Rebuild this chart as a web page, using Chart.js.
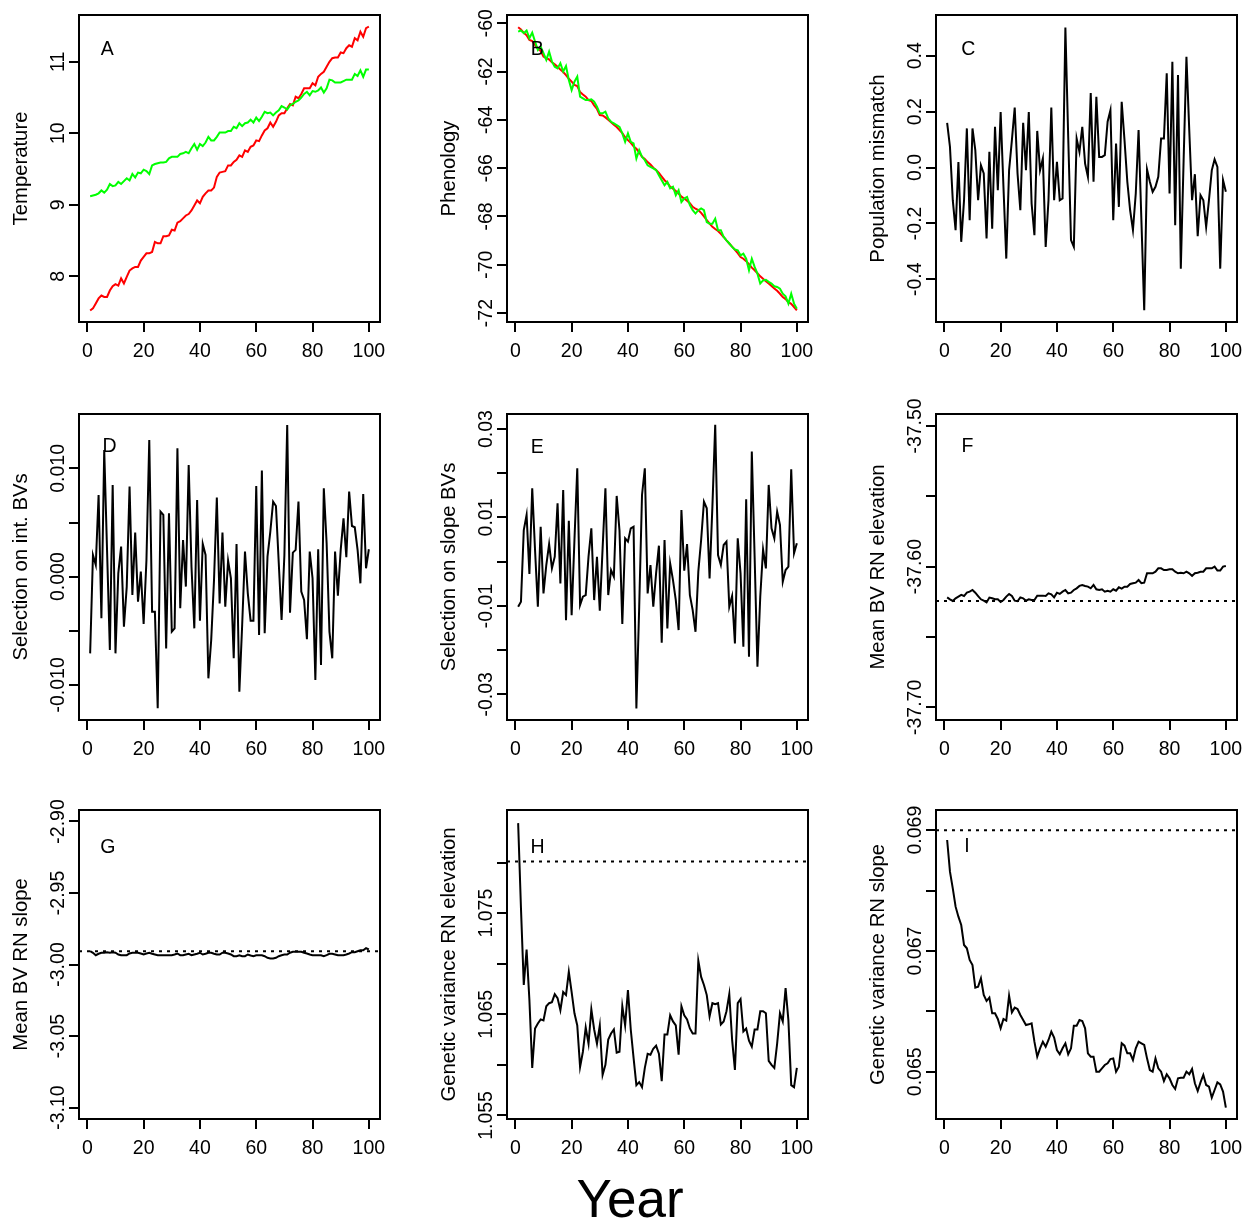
<!DOCTYPE html>
<html><head><meta charset="utf-8">
<script src="https://cdn.jsdelivr.net/npm/chart.js@4"></script>
<style>
html,body{margin:0;padding:0;background:#fff;}
body{width:1251px;height:1222px;position:relative;overflow:hidden;}
canvas{position:absolute;}
#xlabel{position:absolute;left:430px;width:400px;top:1172px;text-align:center;font-family:"Liberation Sans",Arial,sans-serif;font-size:53px;line-height:53px;color:#000;}
</style></head><body>
<div id="xlabel">Year</div>
<script>
const years = Array.from({length:100}, (_, i) => i + 1);
const xTicks = [0,20,40,60,80,100];

const tempRed = [7.52,7.55,7.62,7.69,7.73,7.71,7.71,7.80,7.86,7.89,7.87,7.97,7.90,7.99,8.08,8.11,8.13,8.13,8.22,8.27,8.32,8.32,8.34,8.48,8.46,8.46,8.56,8.56,8.57,8.65,8.64,8.75,8.77,8.81,8.85,8.87,8.92,8.99,9.06,9.02,9.11,9.16,9.20,9.20,9.24,9.39,9.45,9.46,9.47,9.55,9.55,9.60,9.63,9.69,9.67,9.76,9.74,9.81,9.83,9.90,9.89,9.97,10.04,10.07,10.15,10.09,10.16,10.25,10.28,10.28,10.35,10.41,10.39,10.51,10.49,10.55,10.63,10.63,10.63,10.70,10.67,10.79,10.83,10.86,10.93,11.00,11.05,11.06,11.06,11.13,11.12,11.19,11.23,11.21,11.33,11.30,11.42,11.35,11.47,11.49];
const tempGreen = [9.12,9.13,9.14,9.16,9.20,9.17,9.21,9.29,9.26,9.27,9.32,9.29,9.33,9.37,9.34,9.43,9.38,9.45,9.44,9.49,9.47,9.43,9.55,9.57,9.58,9.59,9.59,9.60,9.65,9.67,9.67,9.67,9.71,9.72,9.74,9.72,9.79,9.85,9.77,9.85,9.82,9.87,9.95,9.90,9.90,9.95,10.01,10.01,10.01,10.03,10.03,10.09,10.07,10.14,10.10,10.14,10.15,10.19,10.15,10.22,10.17,10.23,10.30,10.28,10.29,10.25,10.29,10.32,10.38,10.36,10.33,10.39,10.41,10.44,10.46,10.50,10.55,10.58,10.53,10.59,10.58,10.60,10.64,10.57,10.63,10.75,10.74,10.71,10.71,10.71,10.73,10.75,10.75,10.75,10.83,10.80,10.88,10.79,10.89,10.89];
const phenRed = [-60.17,-60.26,-60.40,-60.50,-60.69,-60.74,-60.90,-61.05,-61.15,-61.38,-61.45,-61.50,-61.62,-61.70,-61.80,-61.92,-62.02,-62.15,-62.30,-62.42,-62.55,-62.60,-62.85,-62.95,-63.04,-63.18,-63.22,-63.40,-63.55,-63.80,-63.82,-63.90,-64.00,-64.10,-64.20,-64.30,-64.42,-64.55,-64.72,-64.84,-64.95,-65.10,-65.20,-65.35,-65.53,-65.62,-65.75,-65.85,-65.98,-66.08,-66.20,-66.35,-66.50,-66.60,-66.77,-66.85,-66.95,-67.05,-67.18,-67.26,-67.35,-67.45,-67.60,-67.68,-67.74,-67.85,-68.00,-68.15,-68.30,-68.43,-68.52,-68.60,-68.72,-68.85,-68.99,-69.12,-69.25,-69.38,-69.52,-69.68,-69.75,-69.85,-69.98,-70.12,-70.23,-70.35,-70.48,-70.58,-70.68,-70.78,-70.88,-70.98,-71.08,-71.20,-71.34,-71.42,-71.55,-71.62,-71.75,-71.89];
const phenGreen = [-60.35,-60.30,-60.41,-60.30,-60.62,-60.39,-60.76,-61.11,-60.97,-61.24,-61.52,-61.18,-61.59,-61.80,-61.87,-61.66,-62.00,-61.77,-62.35,-62.77,-62.42,-62.21,-63.04,-63.11,-63.18,-63.18,-63.15,-63.25,-63.46,-63.73,-63.73,-63.66,-63.94,-64.08,-64.15,-64.22,-64.29,-64.56,-64.91,-64.56,-64.91,-64.98,-65.60,-65.25,-65.53,-65.67,-65.88,-65.95,-66.01,-66.08,-66.29,-66.50,-66.71,-66.57,-66.84,-66.77,-67.12,-66.91,-67.40,-67.26,-67.19,-67.53,-67.74,-67.88,-67.74,-67.67,-67.74,-68.23,-68.30,-68.30,-68.09,-68.57,-68.57,-68.85,-68.99,-69.12,-69.26,-69.37,-69.40,-69.61,-69.54,-69.75,-70.23,-69.75,-70.09,-70.37,-70.78,-70.65,-70.62,-70.71,-70.78,-70.89,-70.92,-70.99,-71.20,-71.31,-71.61,-71.20,-71.61,-71.82];
const mismatch = [0.160,0.074,-0.117,-0.224,0.020,-0.266,-0.117,0.140,-0.189,0.140,0.062,-0.117,0.008,-0.021,-0.254,0.056,-0.219,0.146,-0.081,0.199,-0.069,-0.326,-0.010,0.098,0.215,-0.021,-0.153,0.160,-0.010,0.199,-0.129,-0.242,0.131,-0.010,0.032,-0.284,-0.117,0.215,-0.117,0.020,-0.117,-0.111,0.501,0.110,-0.260,-0.284,0.104,0.056,0.146,0.014,-0.033,0.267,-0.051,0.253,0.038,0.038,0.044,0.164,0.205,-0.189,0.086,-0.141,0.235,0.098,-0.051,-0.153,-0.224,-0.093,0.134,-0.189,-0.511,-0.007,-0.051,-0.087,-0.069,-0.033,0.104,0.104,0.337,-0.093,0.379,-0.207,0.331,-0.362,0.026,0.396,0.134,-0.117,-0.024,-0.246,-0.099,-0.117,-0.213,-0.117,-0.010,0.029,0.002,-0.362,-0.045,-0.087];
const selInt = [-0.00709,0.00200,0.00108,0.00755,-0.00385,0.01171,0.00247,-0.00678,0.00847,-0.00709,0.00031,0.00277,-0.00462,-0.00092,0.00832,-0.00169,0.00407,-0.00231,0.00046,-0.00438,0.00154,0.01263,-0.00324,-0.00324,-0.01217,0.00601,0.00570,-0.00663,0.00586,-0.00508,-0.00478,0.01186,-0.00293,0.00339,-0.00092,0.01032,0.00092,-0.00478,0.00709,-0.00407,0.00302,0.00200,-0.00940,-0.00586,-0.00031,0.00730,-0.00247,0.00407,-0.00277,0.00148,-0.00015,-0.00755,0.00302,-0.01063,-0.00447,0.00231,-0.00154,-0.00407,-0.00407,0.00838,-0.00539,0.00980,-0.00524,0.00185,0.00416,0.00693,0.00653,0.00123,-0.00401,0.00200,0.01402,-0.00333,0.00222,0.00247,0.00693,-0.00139,-0.00216,-0.00579,0.00231,-0.00015,-0.00955,0.00253,-0.00817,0.00817,0.00308,-0.00508,-0.00755,0.00231,-0.00176,0.00247,0.00539,0.00179,0.00786,0.00468,0.00456,0.00247,-0.00062,0.00764,0.00077,0.00253];
const selSlope = [-0.01019,-0.00906,0.00717,0.01057,-0.00279,0.01660,0.00264,-0.01019,0.00792,-0.00717,-0.00075,0.00400,-0.00151,0.00113,0.01321,-0.00491,0.01623,-0.01321,0.00928,-0.01208,0.00491,0.02113,-0.00981,-0.00792,-0.00755,0.00113,0.00755,-0.00868,0.00113,-0.01109,0.00302,0.01660,-0.00755,-0.00189,-0.00340,0.01487,0.00702,-0.01411,0.00528,0.00453,0.00755,0.00792,-0.03321,-0.01019,0.01509,0.02113,-0.00717,-0.00075,-0.01019,-0.00264,0.00362,-0.01834,0.00491,-0.01509,-0.00038,-0.00415,-0.00868,-0.01547,0.01170,-0.00204,0.00400,-0.00755,-0.01094,-0.01585,-0.00226,0.00491,0.01358,0.01208,-0.00377,0.01245,0.03094,0.00151,-0.00075,0.00377,0.00453,-0.01019,-0.00777,-0.01849,0.00528,-0.00264,-0.01925,0.01411,-0.02151,0.02491,0.00113,-0.02377,-0.00792,0.00279,-0.00151,0.01736,0.00755,0.00528,0.01132,0.00830,-0.00453,-0.00189,-0.00113,0.02091,0.00189,0.00415];
const bvElev = [-37.6218,-37.6232,-37.6244,-37.6225,-37.6213,-37.6201,-37.6209,-37.6185,-37.6178,-37.6166,-37.6185,-37.6209,-37.6232,-37.6242,-37.6254,-37.6220,-37.6225,-37.6232,-37.6232,-37.6251,-37.6237,-37.6213,-37.6194,-37.6209,-37.6242,-37.6246,-37.6218,-37.6225,-37.6242,-37.6232,-37.6237,-37.6237,-37.6206,-37.6206,-37.6206,-37.6209,-37.6190,-37.6197,-37.6218,-37.6185,-37.6194,-37.6178,-37.6166,-37.6190,-37.6185,-37.6166,-37.6154,-37.6137,-37.6130,-37.6137,-37.6142,-37.6154,-37.6130,-37.6161,-37.6166,-37.6161,-37.6178,-37.6171,-37.6178,-37.6161,-37.6171,-37.6147,-37.6156,-37.6142,-37.6142,-37.6123,-37.6118,-37.6114,-37.6095,-37.6118,-37.6114,-37.6047,-37.6047,-37.6047,-37.6036,-37.6012,-37.6012,-37.6024,-37.6024,-37.6019,-37.6019,-37.6036,-37.6047,-37.6043,-37.6047,-37.6036,-37.6047,-37.6066,-37.6047,-37.6043,-37.6036,-37.6036,-37.6012,-37.6012,-37.6012,-37.6000,-37.6028,-37.6028,-37.6000,-37.5995];
const bvSlope = [-2.9907,-2.9918,-2.9935,-2.9925,-2.9918,-2.9918,-2.9914,-2.9918,-2.9914,-2.9918,-2.9930,-2.9935,-2.9935,-2.9935,-2.9923,-2.9918,-2.9918,-2.9918,-2.9923,-2.9930,-2.9923,-2.9918,-2.9925,-2.9930,-2.9935,-2.9935,-2.9935,-2.9935,-2.9935,-2.9935,-2.9930,-2.9923,-2.9935,-2.9935,-2.9930,-2.9925,-2.9935,-2.9930,-2.9925,-2.9918,-2.9930,-2.9925,-2.9918,-2.9918,-2.9925,-2.9930,-2.9930,-2.9918,-2.9918,-2.9923,-2.9930,-2.9942,-2.9942,-2.9935,-2.9942,-2.9942,-2.9930,-2.9937,-2.9942,-2.9935,-2.9935,-2.9935,-2.9942,-2.9953,-2.9958,-2.9958,-2.9953,-2.9942,-2.9935,-2.9930,-2.9930,-2.9918,-2.9911,-2.9911,-2.9911,-2.9911,-2.9918,-2.9923,-2.9930,-2.9935,-2.9935,-2.9935,-2.9935,-2.9942,-2.9935,-2.9925,-2.9925,-2.9930,-2.9935,-2.9935,-2.9935,-2.9930,-2.9923,-2.9914,-2.9914,-2.9907,-2.9900,-2.9900,-2.9886,-2.9895];
const gvElev = [1.0839,1.0755,1.0679,1.0714,1.0664,1.0597,1.0636,1.0641,1.0645,1.0644,1.0658,1.0661,1.0662,1.0670,1.0666,1.0654,1.0672,1.0669,1.0692,1.0672,1.0651,1.0639,1.0598,1.0613,1.0637,1.0621,1.0655,1.0635,1.0621,1.0639,1.0590,1.0600,1.0625,1.0631,1.0635,1.0612,1.0613,1.0658,1.0639,1.0674,1.0635,1.0607,1.0580,1.0583,1.0578,1.0597,1.0611,1.0610,1.0616,1.0619,1.0611,1.0584,1.0630,1.0630,1.0649,1.0643,1.0639,1.0610,1.0658,1.0649,1.0645,1.0636,1.0631,1.0631,1.0703,1.0687,1.0679,1.0669,1.0648,1.0661,1.0660,1.0661,1.0640,1.0643,1.0653,1.0670,1.0625,1.0595,1.0661,1.0665,1.0633,1.0636,1.0624,1.0618,1.0635,1.0635,1.0653,1.0653,1.0651,1.0604,1.0600,1.0597,1.0621,1.0651,1.0643,1.0676,1.0644,1.0580,1.0578,1.0597];
const gvSlope = [0.068837,0.068313,0.068037,0.067734,0.067568,0.067430,0.067099,0.067044,0.066851,0.066768,0.066393,0.066410,0.066548,0.066272,0.066172,0.066228,0.065968,0.065968,0.065875,0.065720,0.065875,0.065847,0.066261,0.065985,0.066062,0.066040,0.065941,0.065858,0.065775,0.065786,0.065803,0.065499,0.065251,0.065389,0.065499,0.065417,0.065527,0.065665,0.065566,0.065361,0.065290,0.065389,0.065472,0.065290,0.065389,0.065764,0.065764,0.065858,0.065841,0.065720,0.065306,0.065251,0.065251,0.065003,0.065003,0.065058,0.065113,0.065141,0.065212,0.065223,0.065003,0.065086,0.065472,0.065433,0.065306,0.065306,0.065196,0.065389,0.065499,0.065472,0.065444,0.065223,0.065030,0.065003,0.065223,0.065058,0.065003,0.064848,0.064959,0.064892,0.064782,0.064716,0.064892,0.064903,0.064903,0.065003,0.064959,0.065047,0.064810,0.064683,0.064826,0.064948,0.064782,0.064755,0.064572,0.064699,0.064826,0.064793,0.064672,0.064407];

const refElev = -37.6244, refSlope = -2.9907, refGvElev = 1.0801, refGvSlope = 0.069;

const ticksA = [8,9,10,11], labelsA = ['8','9','10','11'];
const ticksB = [-72,-70,-68,-66,-64,-62,-60], labelsB = ['-72','-70','-68','-66','-64','-62','-60'];
const ticksC = [-0.4,-0.2,0,0.2,0.4], labelsC = ['-0.4','-0.2','0.0','0.2','0.4'];
const ticksD = [-0.01,-0.005,0,0.005,0.01], labelsD = ['-0.010','','0.000','','0.010'];
const ticksE = [-0.03,-0.02,-0.01,0,0.01,0.02,0.03], labelsE = ['-0.03','','-0.01','','0.01','','0.03'];
const ticksF = [-37.70,-37.65,-37.60,-37.55,-37.50], labelsF = ['-37.70','','-37.60','','-37.50'];
const ticksG = [-3.10,-3.05,-3.00,-2.95,-2.90], labelsG = ['-3.10','-3.05','-3.00','-2.95','-2.90'];
const ticksH = [1.055,1.060,1.065,1.070,1.075,1.080], labelsH = ['1.055','','1.065','','1.075',''];
const ticksI = [0.065,0.066,0.067,0.068,0.069], labelsI = ['0.065','','0.067','','0.069'];

const X_MIN = -2.96, X_MAX = 103.96;
const FONT = '"Liberation Sans", Arial, Helvetica, sans-serif';
const TICK_SIZE = 19.5, TITLE_SIZE = 20.3;
const colLeft = [79, 507, 936], boxW = 301;
const rowTop = [15, 414, 810], rowH = [307, 306, 309];
const PAD_L = 80, PAD_T = 30, PAD_R = 30, PAD_B = 60;

const RED = '#ff0000', GREEN = '#00ff00', BLACK = '#000000';

const panels = [
  {letter:'A', col:0, row:0, lx:28.3, ly:35, title:'Temperature', yMin:7.36, yMax:11.654, ticks:ticksA, labels:labelsA, series:[{v:tempGreen,c:GREEN},{v:tempRed,c:RED}]},
  {letter:'B', col:1, row:0, lx:30.2, ly:35, title:'Phenology', yMin:-72.37, yMax:-59.66, ticks:ticksB, labels:labelsB, series:[{v:phenGreen,c:GREEN},{v:phenRed,c:RED}]},
  {letter:'C', col:2, row:0, lx:32.3, ly:35, title:'Population mismatch', yMin:-0.553, yMax:0.546, ticks:ticksC, labels:labelsC, series:[{v:mismatch,c:BLACK}]},
  {letter:'D', col:0, row:1, lx:30.5, ly:33, title:'Selection on int. BVs', yMin:-0.01325, yMax:0.01503, ticks:ticksD, labels:labelsD, series:[{v:selInt,c:BLACK}]},
  {letter:'E', col:1, row:1, lx:30.2, ly:34, title:'Selection on slope BVs', yMin:-0.0358, yMax:0.0334, ticks:ticksE, labels:labelsE, series:[{v:selSlope,c:BLACK}]},
  {letter:'F', col:2, row:1, lx:31.5, ly:33, title:'Mean BV RN elevation', yMin:-37.709, yMax:-37.4915, ticks:ticksF, labels:labelsF, series:[{v:bvElev,c:BLACK}], ref:refElev},
  {letter:'G', col:0, row:2, lx:28.8, ly:38, title:'Mean BV RN slope', yMin:-3.108, yMax:-2.892, ticks:ticksG, labels:labelsG, series:[{v:bvSlope,c:BLACK}], ref:refSlope},
  {letter:'H', col:1, row:2, lx:30.5, ly:38, title:'Genetic variance RN elevation', yMin:1.05465, yMax:1.0852, ticks:ticksH, labels:labelsH, series:[{v:gvElev,c:BLACK}], ref:refGvElev},
  {letter:'I', col:2, row:2, lx:31, ly:37, title:'Genetic variance RN slope', yMin:0.064219, yMax:0.069334, ticks:ticksI, labels:labelsI, series:[{v:gvSlope,c:BLACK}], ref:refGvSlope}
];

const mctx = document.createElement('canvas').getContext('2d');
mctx.font = TICK_SIZE + 'px ' + FONT;

const framePlugin = {
  id: 'frame',
  afterDatasetsDraw(chart, args, opts) {
    const {ctx, chartArea: ca} = chart;
    ctx.save();
    ctx.strokeStyle = '#000';
    ctx.lineWidth = 2;
    ctx.strokeRect(ca.left, ca.top, ca.right - ca.left, ca.bottom - ca.top);
    ctx.fillStyle = '#000';
    ctx.font = TICK_SIZE + 'px ' + FONT;
    ctx.textAlign = 'center';
    ctx.textBaseline = 'middle';
    ctx.fillText(opts.letter, ca.left + opts.lx, ca.top + opts.ly);
    ctx.restore();
  }
};

Chart.defaults.font.family = FONT;
Chart.defaults.font.size = TICK_SIZE;
Chart.defaults.color = '#000';

const gridOpts = {drawOnChartArea:false, drawTicks:true, tickLength:10, tickWidth:2, tickColor:'#000', color:'#000', lineWidth:2};

panels.forEach(p => {
  const cv = document.createElement('canvas');
  const W = PAD_L + boxW + PAD_R, H = PAD_T + rowH[p.row] + PAD_B;
  cv.width = W; cv.height = H;
  cv.style.left = (colLeft[p.col] - PAD_L) + 'px';
  cv.style.top = (rowTop[p.row] - PAD_T) + 'px';
  cv.style.width = W + 'px'; cv.style.height = H + 'px';
  document.body.appendChild(cv);

  const widest = Math.max(...p.labels.map(l => mctx.measureText(l).width));
  const yPad = 10.6 - widest / 2;

  const datasets = p.series.map((s, k) => ({
    data: years.map((yr, i) => ({x: yr, y: s.v[i]})),
    borderColor: s.c, borderWidth: 2, pointRadius: 0, tension: 0, fill: false, order: k
  }));
  if (p.ref !== undefined) {
    datasets.push({data: [{x: X_MIN, y: p.ref}, {x: X_MAX, y: p.ref}], borderColor: '#000', borderWidth: 2, borderDash: [3, 5], pointRadius: 0, fill: false, order: 5});
  }

  new Chart(cv, {
    type: 'line',
    data: {datasets},
    plugins: [framePlugin],
    options: {
      responsive: false, animation: false, devicePixelRatio: 1,
      layout: {padding: {left: 0, top: PAD_T, right: PAD_R, bottom: 0}},
      plugins: {legend: {display: false}, tooltip: {enabled: false}, frame: {letter: p.letter, lx: p.lx, ly: p.ly}},
      scales: {
        x: {
          type: 'linear', min: X_MIN, max: X_MAX,
          afterBuildTicks: s => { s.ticks = xTicks.map(v => ({value: v})); },
          afterFit: s => { s.height = PAD_B; },
          ticks: {autoSkip: false, maxRotation: 0, minRotation: 0, padding: 8, color: '#000', font: {size: TICK_SIZE}, callback: v => String(v)},
          grid: gridOpts, border: {display: false}
        },
        y: {
          type: 'linear', min: p.yMin, max: p.yMax,
          afterBuildTicks: s => { s.ticks = p.ticks.map(v => ({value: v})); },
          afterFit: s => { s.width = PAD_L; },
          ticks: {autoSkip: false, minRotation: 90, maxRotation: 90, crossAlign: 'center', padding: yPad, color: '#000', font: {size: TICK_SIZE}, callback: (v, i) => p.labels[i]},
          title: {display: true, text: p.title, color: '#000', font: {size: TITLE_SIZE}, padding: {top: 9.8, bottom: 0}},
          grid: gridOpts, border: {display: false}
        }
      }
    }
  });
});
</script>
</body></html>
